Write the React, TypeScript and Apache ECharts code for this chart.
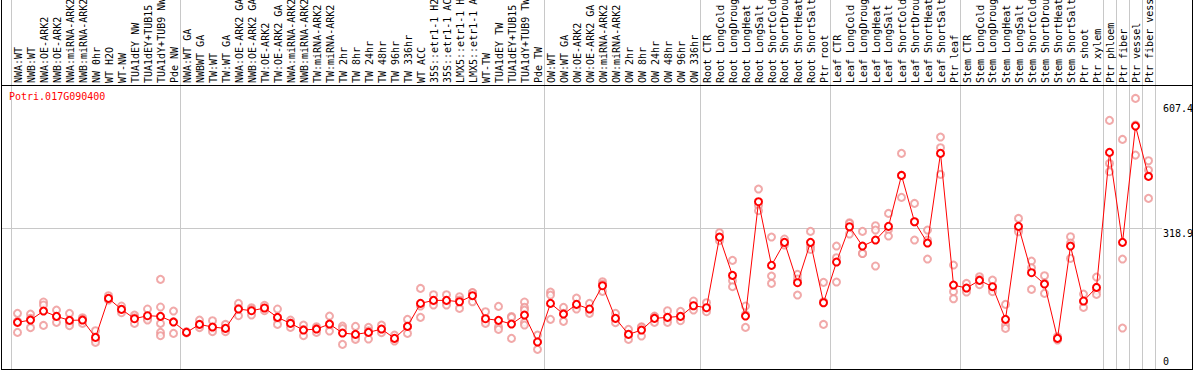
import React, { useEffect, useRef } from 'react';
import * as echarts from 'echarts';

const geneName = 'Potri.017G090400';

const categories = [
  'NWA:WT', 'NWB:WT', 'NWA:OE-ARK2', 'NWB:OE-ARK2', 'NWA:miRNA-ARK2', 'NWB:miRNA-ARK2', 'NW 0hr', 'WT H2O', 'WT-NW',
  'TUA1dEY NW', 'TUA1dEY+TUB15 NW', 'TUA1dY+TUB9 NW', 'Pde NW',
  'NWA:WT GA', 'NWBWT GA', 'TW:WT', 'TW:WT GA', 'NWA:OE-ARK2 GA', 'NWB:OE-ARK2 GA', 'TW:OE-ARK2', 'TW:OE-ARK2 GA',
  'NWA:miRNA-ARK2 GA', 'NWB:miRNA-ARK2 GA', 'TW:miRNA-ARK2', 'TW:miRNA-ARK2 GA',
  'TW 2hr', 'TW 8hr', 'TW 24hr', 'TW 48hr', 'TW 96hr', 'TW 336hr', 'WT ACC',
  '35S::etr1-1 H2O', '35S::etr1-1 ACC', 'LMX5::etr1-1 H2O', 'LMX5::etr1-1 ACC', 'WT-TW',
  'TUA1dEY TW', 'TUA1dEY+TUB15 TW', 'TUA1dY+TUB9 TW', 'Pde TW',
  'OW:WT', 'OW:WT GA', 'OW:OE-ARK2', 'OW:OE-ARK2 GA', 'OW:miRNA-ARK2', 'OW:miRNA-ARK2 GA',
  'OW 2hr', 'OW 8hr', 'OW 24hr', 'OW 48hr', 'OW 96hr', 'OW 336hr',
  'Root CTR', 'Root LongCold', 'Root LongDrought', 'Root LongHeat', 'Root LongSalt',
  'Root ShortCold', 'Root ShortDrought', 'Root ShortHeat', 'Root ShortSalt', 'Ptr root',
  'Leaf CTR', 'Leaf LongCold', 'Leaf LongDrought', 'Leaf LongHeat', 'Leaf LongSalt',
  'Leaf ShortCold', 'Leaf ShortDrought', 'Leaf ShortHeat', 'Leaf ShortSalt', 'Ptr leaf',
  'Stem CTR', 'Stem LongCold', 'Stem LongDrought', 'Stem LongHeat', 'Stem LongSalt',
  'Stem ShortCold', 'Stem ShortDrought', 'Stem ShortHeat', 'Stem ShortSalt', 'Ptr shoot', 'Ptr xylem',
  'Ptr phloem', 'Ptr fiber', 'Ptr vessel', 'Ptr fiber vessel',
];

const meanValues = [
  102.4, 107.7, 128.4, 116.2, 107.0, 107.7, 67.8, 157.6, 132.3, 110.8,
  117.7, 116.2, 103.1, 79.3, 97.7, 91.6, 88.5, 133.1, 129.2, 135.4,
  113.9, 100.0, 84.7, 87.0, 98.5, 77.8, 74.7, 79.3, 87.0, 65.5,
  93.1, 146.1, 153.0, 153.0, 149.9, 163.8, 110.8, 107.0, 98.5, 119.2,
  57.1, 146.1, 121.5, 143.8, 133.1, 186.8, 111.6, 74.7, 84.7, 111.6,
  113.9, 116.2, 140.7, 136.1, 298.8, 210.6, 116.9, 380.2, 233.6, 286.6,
  193.7, 286.6, 147.6, 241.3, 322.6, 278.1, 291.9, 323.4, 440.8, 334.1,
  285.0, 491.5, 188.3, 181.4, 199.1, 184.5, 109.3, 323.4, 216.7, 190.6,
  65.5, 278.1, 151.5, 182.9, 493.8, 286.6, 554.4, 438.5,
];

const replicateValues = [
  [123.1, 104.8, 79.3], [121.5, 111.5, 90.1], [149.2, 142.3, 95.4], [130.7, 115.5, 102.4],
  [123.1, 101.6, 94.7], [113.1, 110.0, 100.0], [83.2, 61.7, 56.3], [163.8, 156.1, 153.8],
  [140.0, 132.0, 124.6], [119.2, 113.0, 100.0], [133.1, 112.0, 107.7],
  [201.4, 137.7, 100.0, 79.3, 71.7], [128.4, 104.0, 77.0],
  [81.0, 78.0], [107.7, 96.0, 90.1], [106.2, 88.0, 80.9], [97.7, 87.0, 80.9],
  [146.1, 135.0, 117.7], [136.1, 132.0, 119.2], [141.5, 135.0, 129.2], [133.1, 111.0, 97.7],
  [107.7, 101.0, 90.8], [96.2, 86.0, 71.7], [92.4, 89.0, 79.3], [116.9, 96.0, 82.4],
  [93.9, 88.0, 51.7], [93.1, 68.0, 63.2], [90.8, 83.0, 64.0], [96.2, 86.0, 78.6],
  [73.2, 64.0, 59.4], [109.3, 93.0, 77.0], [180.6, 140.0, 113.9],
  [166.1, 151.0, 142.3], [166.1, 151.0, 142.3], [161.4, 154.0, 134.6], [171.0, 170.7, 149.9],
  [126.9, 105.0, 100.0], [139.2, 92.4, 86.2], [116.0, 113.9, 65.5],
  [149.2, 136.9, 130.7, 102.4, 96.2], [73.2, 58.0, 40.2],
  [172.2, 165.3, 109.3], [136.9, 123.0, 104.7], [158.4, 140.0, 133.1], [146.1, 130.0, 123.1],
  [196.0, 190.6, 173.8], [123.1, 110.0, 101.6], [86.2, 75.0, 63.2], [92.4, 91.0, 70.9],
  [116.9, 115.0, 102.4], [129.2, 110.0, 102.4], [127.7, 115.0, 106.2], [151.5, 140.0, 130.7],
  [147.6, 134.0, 126.9], [308.8, 297.0, 290.4], [245.1, 198.3, 184.5], [140.0, 120.0, 90.8],
  [409.4, 372.0, 359.5], [298.8, 209.0, 192.1], [294.3, 285.0, 280.4], [212.9, 202.1, 165.3],
  [311.9, 277.0, 270.4], [194.5, 150.0, 97.7],
  [278.1, 251.2, 195.2], [331.8, 330.0, 305.7], [311.9, 261.2, 261.0], [324.9, 314.9, 232.1],
  [353.3, 316.0, 301.1], [491.5, 441.0, 390.2], [376.3, 334.0, 291.9], [314.9, 292.0, 248.2],
  [529.1, 504.5, 443.1], [234.4, 173.0, 156.8],
  [192.1, 180.0, 172.2], [207.5, 201.0, 189.1], [199.8, 181.0, 173.0], [143.8, 96.2, 88.5],
  [341.8, 317.0, 311.1], [243.6, 228.0, 178.3], [209.8, 193.0, 169.1], [69.4, 65.0, 61.7],
  [299.6, 285.0, 249.7], [167.6, 150.0, 136.9], [206.7, 175.0, 166.8],
  [567.5, 468.4, 449.3], [523.7, 248.2, 89.3], [618.1, 557.0, 487.6], [474.6, 453.1, 387.9],
];

// indices of categories where a group separator is drawn (left edge), plus the final edge
const groupEdges = [0, 13, 41, 53, 63, 73, 84, 85, 86, 87, 88];
const gridLineValue = 318.9;
const yTickValues = [607.4, 318.9, 0];

const FONT = "'DejaVu Sans Mono', monospace";
const MEAN_COLOR = '#ff0000';
const REP_COLOR = '#ee9494';
const GRAY = '#c8c8c8';

export default function App() {
  const ref = useRef<HTMLDivElement>(null);

  useEffect(() => {
    document.body.style.margin = '0';
    const chart = echarts.init(ref.current!, null, { renderer: 'svg' });

    const scatterData: number[][] = [];
    replicateValues.forEach((reps, i) => reps.forEach((v) => scatterData.push([i, v])));

    const gridLeft = 11;
    const gridTop = 85;
    const gridWidth = 1144;
    const gridHeight = 284;

    chart.setOption({
      animation: false,
      backgroundColor: '#ffffff',
      title: {
        text: geneName,
        left: 9,
        top: 91,
        padding: 0,
        textStyle: { color: MEAN_COLOR, fontSize: 10, fontWeight: 'normal', fontFamily: FONT },
      },
      grid: {
        left: gridLeft,
        top: gridTop,
        width: gridWidth,
        height: gridHeight,
        containLabel: false,
        outerBoundsMode: 'none',
      },
      xAxis: {
        type: 'category',
        data: categories,
        boundaryGap: true,
        axisLine: { show: false },
        axisTick: { show: false },
        splitLine: { show: false },
        axisLabel: { show: false },
      },
      yAxis: {
        type: 'value',
        min: -5,
        max: 649,
        show: false,
        splitLine: { show: false },
      },
      series: [
        {
          type: 'scatter',
          data: scatterData,
          symbol: 'emptyCircle',
          symbolSize: 7,
          itemStyle: { color: REP_COLOR, borderColor: REP_COLOR, borderWidth: 1 },
          z: 2,
          silent: true,
        },
        {
          type: 'line',
          data: meanValues,
          symbol: 'emptyCircle',
          symbolSize: 7,
          showAllSymbol: true,
          lineStyle: { color: MEAN_COLOR, width: 1 },
          itemStyle: { color: MEAN_COLOR, borderColor: MEAN_COLOR, borderWidth: 1.6 },
          z: 3,
          silent: true,
        },
      ],
    });

    const px = (i: number) => chart.convertToPixel({ xAxisIndex: 0 }, i) as number;
    const py = (v: number) => chart.convertToPixel({ yAxisIndex: 0 }, v) as number;
    const band = px(1) - px(0);
    const edge = (i: number) => px(0) - band / 2 + band * i;
    const bottom = gridTop + gridHeight;
    const W = 1194;

    const graphics: any[] = [];
    // category labels, reading bottom-to-top, starting just above the plot
    categories.forEach((name, i) => {
      graphics.push({
        type: 'text', z: 5, silent: true,
        x: Math.round(px(i)) + 0.5,
        y: gridTop - 2,
        rotation: Math.PI / 2,
        style: {
          text: name,
          fill: '#000000',
          font: `10px ${FONT}`,
          textAlign: 'left',
          textVerticalAlign: 'middle',
        },
      });
    });
    groupEdges.forEach((gi) => {
      const x = Math.round(edge(gi)) + 0.5;
      graphics.push({
        type: 'line', z: 0, silent: true,
        shape: { x1: x, y1: 0, x2: x, y2: bottom },
        style: { stroke: GRAY, lineWidth: 1 },
      });
    });
    const gy = Math.round(py(gridLineValue)) + 0.5;
    graphics.push({
      type: 'line', z: 0, silent: true,
      shape: { x1: 1, y1: gy, x2: 1162, y2: gy },
      style: { stroke: GRAY, lineWidth: 1 },
    });
    // frame
    const black = { stroke: '#000000', lineWidth: 1 };
    graphics.push({ type: 'line', z: 10, silent: true, shape: { x1: 1.5, y1: 0, x2: 1.5, y2: bottom + 1 }, style: black });
    graphics.push({ type: 'line', z: 10, silent: true, shape: { x1: W - 1.5, y1: 0, x2: W - 1.5, y2: bottom + 1 }, style: black });
    graphics.push({ type: 'line', z: 10, silent: true, shape: { x1: 1, y1: gridTop + 0.5, x2: W - 1, y2: gridTop + 0.5 }, style: black });
    graphics.push({ type: 'line', z: 10, silent: true, shape: { x1: 1, y1: bottom + 0.5, x2: W - 1, y2: bottom + 0.5 }, style: black });
    // y tick labels
    yTickValues.forEach((v) => {
      const yy = py(v);
      graphics.push({
        type: 'text', z: 10, silent: true,
        x: gridLeft + gridWidth + 8,
        y: yy,
        style: {
          text: String(v),
          fill: '#000000',
          font: `10px ${FONT}`,
          textAlign: 'left',
          textVerticalAlign: v === 0 ? 'bottom' : 'top',
        },
      });
    });

    chart.setOption({ graphic: graphics });

    return () => chart.dispose();
  }, []);

  return <div ref={ref} style={{ width: 1194, height: 370 }} />;
}
